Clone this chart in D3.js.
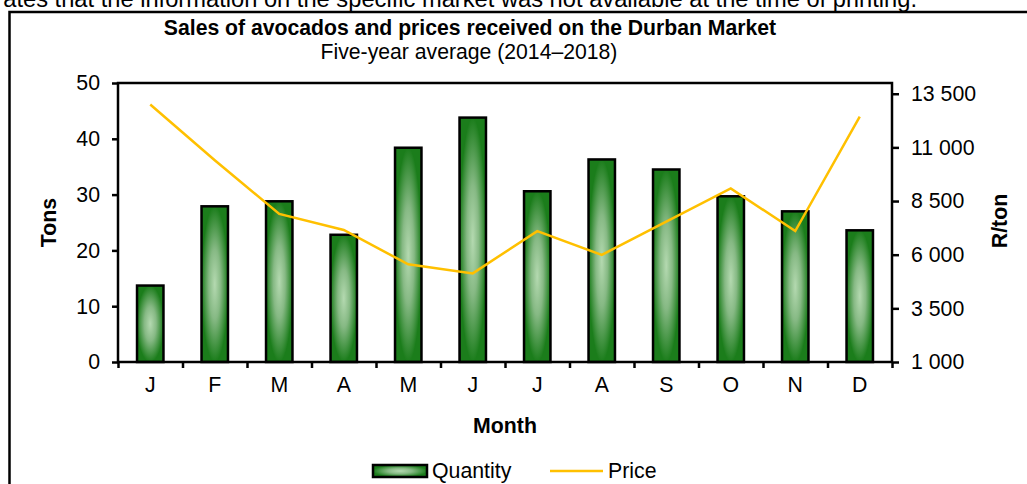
<!DOCTYPE html>
<html>
<head>
<meta charset="utf-8">
<script src="https://cdn.jsdelivr.net/npm/d3@7"></script>
<style>
  body { margin: 0; background: #fff; }
  svg { font-family: "Liberation Sans", Arial, sans-serif; }
</style>
</head>
<body>
<div class="chart"></div>
<script>
// chart data
var months = ["J", "F", "M", "A", "M", "J", "J", "A", "S", "O", "N", "D"];
var quantity = [13.7, 27.9, 28.8, 22.8, 38.4, 43.8, 30.6, 36.3, 34.5, 29.7, 27.0, 23.6];
var price = [13000, 10400, 7900, 7150, 5550, 5130, 7100, 5990, 7540, 9090, 7100, 12430];
var tonTicks = [0, 10, 20, 30, 40, 50];
var priceTicks = [1000, 3500, 6000, 8500, 11000, 13500];

var svgWidth = 1027;
var svgHeight = 484;
var fontSize = "21.3px";

var margin = { top: 83, right: 135, bottom: 122, left: 118 };
var width = svgWidth - margin.left - margin.right;
var height = svgHeight - margin.top - margin.bottom;

var svg = d3.select(".chart")
  .append("svg")
  .attr("width", svgWidth)
  .attr("height", svgHeight);

// gradient for the bars (light centre, dark green edges)
var defs = svg.append("defs");
var grad = defs.append("radialGradient")
  .attr("id", "barFill")
  .attr("cx", "50%").attr("cy", "50%").attr("r", "50%");
grad.append("stop").attr("offset", "0%").attr("stop-color", "#b4d9b0");
grad.append("stop").attr("offset", "45%").attr("stop-color", "#86b984");
grad.append("stop").attr("offset", "100%").attr("stop-color", "#1b7d1b");

// note text, cut off at the top of the page like in the source
svg.append("text")
  .attr("x", 917)
  .attr("y", 7)
  .attr("text-anchor", "end")
  .style("font-size", "23.7px")
  .text("ates that the information on the specific market was not available at the time of printing.");

// outer frame (left and top edges visible)
svg.append("path")
  .attr("d", "M9.5,484 L9.5,12 L1027,12")
  .attr("fill", "none")
  .attr("stroke", "#000")
  .attr("stroke-width", 2.5);

// titles
svg.append("text")
  .attr("x", 470).attr("y", 35)
  .attr("text-anchor", "middle")
  .style("font-size", "21.2px")
  .style("font-weight", "bold")
  .text("Sales of avocados and prices received on the Durban Market");

svg.append("text")
  .attr("x", 469).attr("y", 59)
  .attr("text-anchor", "middle")
  .style("font-size", "21.2px")
  .text("Five-year average (2014–2018)");

var chartGroup = svg.append("g")
  .attr("transform", `translate(${margin.left}, ${margin.top})`);

// scales
var xBand = d3.scaleBand()
  .domain(d3.range(months.length))
  .range([0, width]);

var xEdge = d3.scaleLinear()
  .domain([0, months.length])
  .range([0, width]);

var yLeft = d3.scaleLinear()
  .domain([0, 50])
  .range([height, 0]);

var yRight = d3.scaleLinear()
  .domain([1000, 14000])
  .range([height, 0]);

var spaceFormat = d3.formatLocale({
  decimal: ".", thousands: " ", grouping: [3], currency: ["", ""]
}).format(",");

// bars
var barW = xBand.bandwidth() * 0.41;
chartGroup.selectAll(".bar")
  .data(quantity)
  .enter()
  .append("rect")
  .attr("class", "bar")
  .attr("x", (d, i) => xBand(i) + (xBand.bandwidth() - barW) / 2)
  .attr("y", d => yLeft(d))
  .attr("width", barW)
  .attr("height", d => height - yLeft(d))
  .attr("fill", "url(#barFill)")
  .attr("stroke", "#000")
  .attr("stroke-width", 2.5);

// price line
var line = d3.line()
  .x((d, i) => xBand(i) + xBand.bandwidth() / 2)
  .y(d => yRight(d));

chartGroup.append("path")
  .datum(price)
  .attr("d", line)
  .attr("fill", "none")
  .attr("stroke", "#ffc000")
  .attr("stroke-width", 2.5);

// plot area border
chartGroup.append("rect")
  .attr("width", width)
  .attr("height", height)
  .attr("fill", "none")
  .attr("stroke", "#000")
  .attr("stroke-width", 2.5);

// axes
var leftAxis = chartGroup.append("g")
  .call(d3.axisLeft(yLeft).tickValues(tonTicks).tickSize(6).tickPadding(12));

var rightAxis = chartGroup.append("g")
  .attr("transform", `translate(${width}, 0)`)
  .call(d3.axisRight(yRight).tickValues(priceTicks).tickSize(7).tickPadding(12).tickFormat(spaceFormat));

var xTicks = chartGroup.append("g")
  .attr("transform", `translate(0, ${height})`)
  .call(d3.axisBottom(xEdge).ticks(months.length).tickSize(6).tickFormat(""));

var xLabels = chartGroup.append("g")
  .attr("transform", `translate(0, ${height})`)
  .call(d3.axisBottom(xBand).tickSize(0).tickPadding(15).tickFormat(i => months[i]));

[leftAxis, rightAxis, xTicks, xLabels].forEach(g => {
  g.selectAll(".domain").remove();
  g.selectAll("line").attr("stroke", "#000").attr("stroke-width", 2.5);
  g.selectAll("text")
    .attr("fill", "#000")
    .style("font-family", "\"Liberation Sans\", Arial, sans-serif")
    .style("font-size", fontSize);
});

// axis titles
chartGroup.append("text")
  .attr("transform", `translate(${56 - margin.left}, ${height / 2}) rotate(-90)`)
  .attr("text-anchor", "middle")
  .style("font-size", fontSize)
  .style("font-weight", "bold")
  .text("Tons");

chartGroup.append("text")
  .attr("transform", `translate(${1007 - margin.left}, ${221 - margin.top}) rotate(-90)`)
  .attr("text-anchor", "middle")
  .style("font-size", fontSize)
  .style("font-weight", "bold")
  .text("R/ton");

chartGroup.append("text")
  .attr("x", width / 2)
  .attr("y", 433 - margin.top)
  .attr("text-anchor", "middle")
  .style("font-size", fontSize)
  .style("font-weight", "bold")
  .text("Month");

// legend
var legend = svg.append("g");
legend.append("rect")
  .attr("x", 373).attr("y", 465)
  .attr("width", 54).attr("height", 12)
  .attr("fill", "url(#barFill)")
  .attr("stroke", "#000")
  .attr("stroke-width", 2.5);
legend.append("text")
  .attr("x", 432).attr("y", 478)
  .style("font-size", fontSize)
  .text("Quantity");
legend.append("line")
  .attr("x1", 550).attr("x2", 603)
  .attr("y1", 471).attr("y2", 471)
  .attr("stroke", "#ffc000")
  .attr("stroke-width", 2.5);
legend.append("text")
  .attr("x", 608).attr("y", 478)
  .style("font-size", fontSize)
  .text("Price");
</script>
</body>
</html>
